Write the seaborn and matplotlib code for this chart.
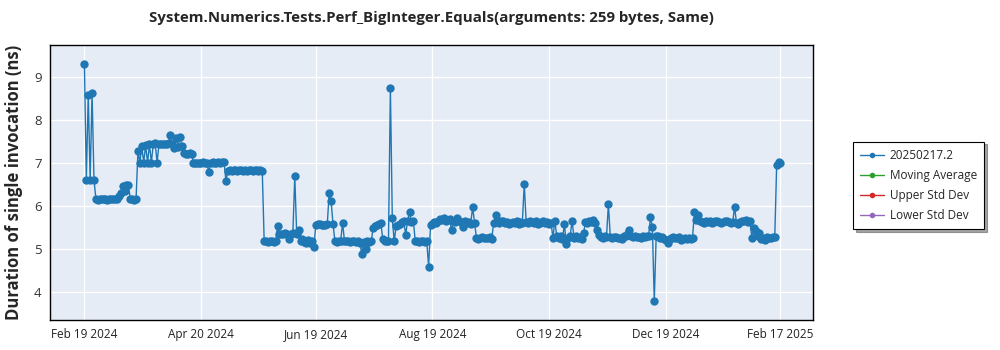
import numpy as np
import pandas as pd
import matplotlib
matplotlib.use("Agg")
import matplotlib.pyplot as plt
from matplotlib.lines import Line2D
import seaborn as sns

# ---------------- data ----------------
start_date = "2024-02-19"
values = [
    # Feb 19 ...
    9.28, 6.60, 8.58, 6.60, 8.62, 6.60,
    6.15, 6.14, 6.15, 6.16, 6.15, 6.15, 6.14, 6.15, 6.15, 6.16, 6.15,
    6.15, 6.22, 6.30, 6.45, 6.33, 6.47, 6.47, 6.15, 6.15, 6.14, 6.15,
    7.27, 7.00, 7.38, 7.00, 7.40, 7.00, 7.42, 7.00, 7.43, 7.45, 7.00,
    7.44, 7.43, 7.43, 7.44, 7.44, 7.45, 7.65, 7.42, 7.33, 7.58, 7.36,
    7.60, 7.38, 7.22, 7.20, 7.20, 7.22, 7.20,
    7.00, 7.00, 7.00, 6.99, 7.00, 7.01, 7.00, 7.00, 6.78,
    7.00, 7.01, 7.00, 7.00, 7.02, 7.00, 7.02, 7.01, 6.58,
    6.80, 6.82, 6.81, 6.83, 6.82, 6.80, 6.82, 6.83, 6.81, 6.82,
    6.80, 6.82, 6.83, 6.81, 6.82, 6.82, 6.80, 6.82, 6.81,
    # Jun 2024
    5.17, 5.17, 5.16, 5.17, 5.17, 5.16, 5.17,
    5.52, 5.33, 5.34, 5.33, 5.35, 5.34, 5.22, 5.34, 5.35, 6.68, 5.34,
    5.42, 5.18, 5.22, 5.15, 5.12, 5.20, 5.14, 5.18, 5.03,
    5.55, 5.56, 5.57, 5.55, 5.54, 5.55, 5.57, 6.30, 6.10, 5.57,
    5.17, 5.16, 5.17, 5.17, 5.60, 5.17,
    5.17, 5.18, 5.16, 5.17, 5.17, 5.16, 5.17, 5.14, 4.88, 5.16, 5.00,
    5.17, 5.16, 5.17,
    5.48, 5.52, 5.55, 5.58, 5.60,
    5.22, 5.18, 5.17, 5.18, 8.73, 5.70, 5.17,
    5.52, 5.55, 5.57, 5.62, 5.63, 5.32, 5.65, 5.85, 5.62, 5.65,
    5.17, 5.17, 5.16, 5.17, 5.17, 5.16, 5.17, 4.58,
    # Aug 2024
    5.55, 5.58, 5.62, 5.60, 5.65, 5.68, 5.66, 5.70, 5.63, 5.66, 5.68,
    5.42, 5.65, 5.62, 5.70, 5.65, 5.62, 5.50, 5.63, 5.60, 5.62, 5.58,
    5.96, 5.60,
    5.25, 5.22, 5.24, 5.26, 5.25, 5.25, 5.24, 5.26, 5.22,
    5.60, 5.78, 5.62, 5.60, 5.65, 5.63, 5.60, 5.62, 5.58, 5.60, 5.62,
    5.60, 5.63, 5.58, 5.62, 5.60, 6.50, 5.62,
    5.60, 5.65, 5.62, 5.60, 5.63, 5.58, 5.60, 5.62, 5.65, 5.60, 5.62,
    5.58, 5.60,
    # Oct 2024
    5.25, 5.65, 5.28, 5.25, 5.30, 5.22, 5.57, 5.10, 5.25, 5.28, 5.65,
    5.25, 5.30, 5.25, 5.27, 5.22, 5.35,
    5.62, 5.60, 5.65, 5.62, 5.66, 5.60, 5.43, 5.32,
    5.27, 5.25, 5.28, 5.26, 6.03, 5.27, 5.25, 5.27, 5.26, 5.25, 5.24,
    5.22, 5.28, 5.30, 5.35, 5.43, 5.28, 5.27, 5.28, 5.26, 5.27, 5.25,
    5.30, 5.26, 5.30, 5.28, 5.73, 5.50, 3.78, 5.30, 5.28,
    # Dec 2024
    5.25, 5.26, 5.22, 5.20, 5.13, 5.22, 5.25, 5.27, 5.25, 5.24, 5.26,
    5.20, 5.22, 5.25, 5.22, 5.24, 5.22, 5.25,
    5.85, 5.66, 5.78, 5.65, 5.62, 5.60, 5.63, 5.62, 5.65, 5.60, 5.62,
    5.65, 5.63, 5.62, 5.60, 5.62, 5.63, 5.65, 5.62, 5.60, 5.62, 5.96,
    5.60, 5.58, 5.62, 5.65, 5.63, 5.66, 5.62, 5.65,
    5.25, 5.48, 5.40, 5.30, 5.35, 5.22, 5.25, 5.20, 5.27, 5.24, 5.25,
    5.27, 5.26,
    6.95, 7.02, 6.98,
]

tick_labels = ["Feb 19 2024", "Apr 20 2024", "Jun 19 2024", "Aug 19 2024",
               "Oct 19 2024", "Dec 19 2024", "Feb 17 2025"]
series_names = ["20250217.2", "Moving Average", "Upper Std Dev", "Lower Std Dev"]
series_colors = ["#1f77b4", "#2ca02c", "#d62728", "#9467bd"]

title = "System.Numerics.Tests.Perf_BigInteger.Equals(arguments: 259 bytes, Same)"
ylabel = "Duration of single invocation (ns)"

dates = pd.date_range(start_date, periods=len(values), freq="D")
df = pd.DataFrame({"date": dates, "value": values})

# ---------------- style ----------------
sns.set_style("white")
plt.rcParams["font.family"] = ["Open Sans", "DejaVu Sans"]

fig = plt.figure(figsize=(10, 3.5), dpi=100)
ax = fig.add_axes([0.050, 0.086, 0.763, 0.785])
ax.set_facecolor("#E5ECF6")

sns.lineplot(data=df, x="date", y="value", ax=ax, color=series_colors[0],
             linewidth=1.0, marker="o", markersize=6, markeredgewidth=0,
             legend=False)

ax.set_ylim(3.34, 9.73)
ax.set_xlim(pd.Timestamp("2024-02-01"), pd.Timestamp("2025-03-06"))
ax.set_yticks([4, 5, 6, 7, 8, 9])
ax.set_yticklabels(["4", "5", "6", "7", "8", "9"], fontsize=9.5, color="#333333")
ax.yaxis.set_minor_locator(matplotlib.ticker.MultipleLocator(0.2))
tick_dates = [pd.to_datetime(t, format="%b %d %Y") for t in tick_labels]
ax.set_xticks(tick_dates)
ax.set_xticklabels(tick_labels, fontsize=8.5, color="#222222")
ax.tick_params(axis="both", which="major", length=3, width=0.8, color="black", pad=3)
ax.tick_params(axis="y", which="minor", length=2, width=0.6, color="black")

ax.grid(True, color="white", linewidth=1.0)
ax.set_axisbelow(True)
for s in ax.spines.values():
    s.set_color("black")
    s.set_linewidth(1.0)

ax.set_xlabel("")
ax.set_ylabel(ylabel, fontsize=12, fontweight="bold", labelpad=8)
fig.suptitle(title, fontsize=10.8, fontweight="bold", x=0.431, y=0.968)

handles = [Line2D([0], [0], color=c, marker="o", markersize=4, linewidth=1.0,
                  markeredgewidth=0) for c in series_colors]
leg = fig.legend(handles, series_names, loc="upper left",
                 bbox_to_anchor=(0.847, 0.612), frameon=True, shadow=True,
                 fancybox=False, fontsize=8.5, handlelength=2.0,
                 borderpad=0.6, labelspacing=0.6, handletextpad=0.5)
leg.get_frame().set_edgecolor("black")
leg.get_frame().set_linewidth(0.8)

fig.savefig("out.png", dpi=100)
